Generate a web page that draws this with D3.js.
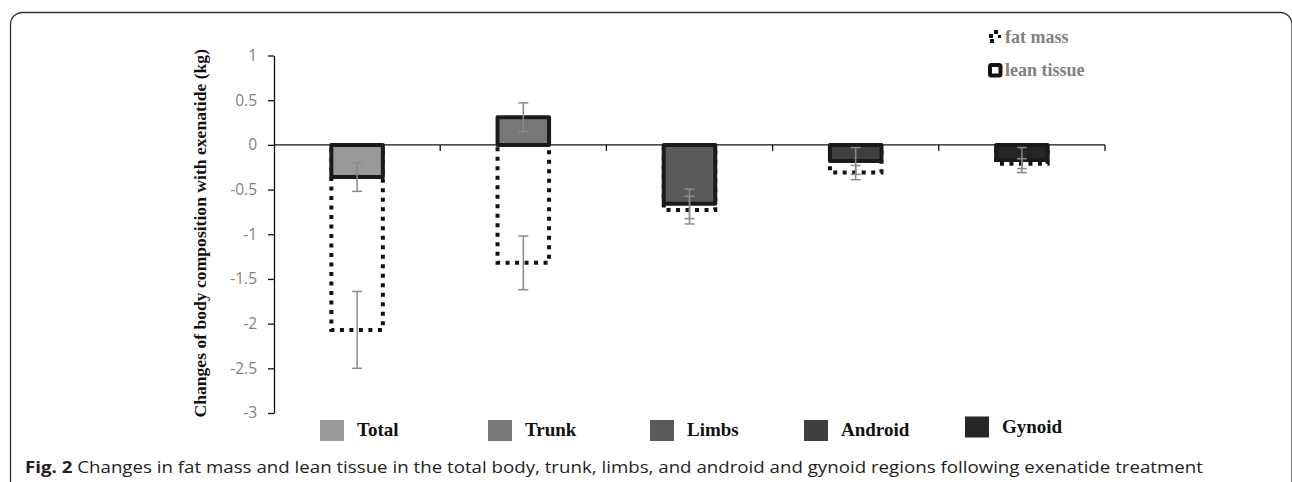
<!DOCTYPE html>
<html>
<head>
<meta charset="utf-8">
<script src="https://cdn.jsdelivr.net/npm/d3@7"></script>
<style>
  html, body { margin: 0; padding: 0; background: #fff; }
  svg { display: block; }
</style>
</head>
<body>
<svg id="chart" width="1292" height="482"></svg>
<script>
// ---- data ----
const categories = ["Total", "Trunk", "Limbs", "Android", "Gynoid"];
const fatMass      = [-2.07, -1.32, -0.73, -0.31, -0.21];
const fatMassErr   = [0.43, 0.30, 0.155, 0.08, 0.055];
const leanTissue   = [-0.36, 0.31, -0.66, -0.18, -0.17];
const leanTissueErr= [0.16, 0.16, 0.165, 0.15, 0.14];
const yTicks = [1, 0.5, 0, -0.5, -1, -1.5, -2, -2.5, -3];
const seriesNames = ["fat mass", "lean tissue"];
const yTitle = "Changes of body composition with exenatide (kg)";
const captionBold = "Fig. 2";
const captionText = " Changes in fat mass and lean tissue in the total body, trunk, limbs, and android and gynoid regions following exenatide treatment";

// ---- styles / layout ----
const catColors = ["#999999", "#777777", "#5a5a5a", "#3f3f3f", "#252525"];
const legendX = [320, 488, 650, 804, 965];
const legendDy = [0, 0, 0, 0, -3.5];

const svg = d3.select("#chart");

// frame
svg.append("path")
  .attr("d", "M10.5,500 V24 A12,12 0 0 1 22.5,12.5 H1280 A12,12 0 0 1 1292,24.5 V500")
  .attr("fill", "none").attr("stroke", "#333").attr("stroke-width", 1.3);

const x = d3.scaleBand().domain(categories).range([274, 1105]).padding(0);
const y = d3.scaleLinear().domain([-3, 1]).range([413, 55.5]);
const barW = x.bandwidth() * 0.31;
const bx = d => x(d) + x.bandwidth() / 2 - barW / 2;

// y axis
const yAxis = svg.append("g").attr("transform", "translate(274,0)")
  .call(d3.axisLeft(y).tickValues(yTicks).tickSize(6).tickSizeOuter(0).tickPadding(11)
        .tickFormat(d => String(d)));
yAxis.select(".domain").attr("stroke", "#111").attr("stroke-width", 1.3);
yAxis.selectAll(".tick line").attr("stroke", "#111").attr("stroke-width", 1.3);
yAxis.selectAll(".tick text")
  .attr("fill", "#7f7f7f").style("font-family", "'Open Sans', sans-serif").style("font-size", "15.5px");

// y title
svg.append("text")
  .attr("transform", `translate(206,${(y(1) + y(-3)) / 2 - 1}) rotate(-90)`)
  .attr("text-anchor", "middle")
  .style("font-family", "'Liberation Serif', 'Times New Roman', serif")
  .style("font-weight", "bold").style("font-size", "17.6px").attr("fill", "#111")
  .text(yTitle);

// fat mass bars (dotted, no fill)
svg.append("g").selectAll("rect").data(categories).join("rect")
  .attr("x", d => bx(d))
  .attr("width", barW)
  .attr("y", (d, i) => y(Math.max(0, fatMass[i])))
  .attr("height", (d, i) => Math.abs(y(fatMass[i]) - y(0)))
  .attr("fill", "none").attr("stroke", "#111").attr("stroke-width", 4)
  .attr("stroke-dasharray", "4,5.5");

// x axis line with boundary ticks
const xg = svg.append("g");
xg.append("line").attr("x1", 274).attr("x2", 1105).attr("y1", y(0)).attr("y2", y(0))
  .attr("stroke", "#111").attr("stroke-width", 1.3);
const bounds = categories.map(c => x(c)).concat([x.range()[1]]).slice(1);
xg.selectAll("line.t").data(bounds).join("line").attr("class", "t")
  .attr("x1", d => d).attr("x2", d => d).attr("y1", y(0)).attr("y2", y(0) + 6)
  .attr("stroke", "#111").attr("stroke-width", 1.3);

// lean tissue bars
svg.append("g").selectAll("rect").data(categories).join("rect")
  .attr("x", d => bx(d))
  .attr("width", barW)
  .attr("y", (d, i) => y(Math.max(0, leanTissue[i])))
  .attr("height", (d, i) => Math.abs(y(leanTissue[i]) - y(0)))
  .attr("fill", (d, i) => catColors[i]).attr("stroke", "#1a1a1a").attr("stroke-width", 4)
  .attr("stroke-linejoin", "round");

// error bars
function errBars(vals, errs) {
  const g = svg.append("g").attr("stroke", "#8a8a8a").attr("stroke-width", 1.5);
  categories.forEach((c, i) => {
    const cx = x(c) + x.bandwidth() / 2;
    const y1 = y(vals[i] + errs[i]), y2 = y(vals[i] - errs[i]);
    g.append("line").attr("x1", cx).attr("x2", cx).attr("y1", y1).attr("y2", y2);
    g.append("line").attr("x1", cx - 5).attr("x2", cx + 5).attr("y1", y1).attr("y2", y1);
    g.append("line").attr("x1", cx - 5).attr("x2", cx + 5).attr("y1", y2).attr("y2", y2);
  });
}
errBars(fatMass, fatMassErr);
errBars(leanTissue, leanTissueErr);

// series legend (top right)
const sl = svg.append("g");
const fmIcon = sl.append("g").attr("fill", "#111");
[[989, 34, 4, 4], [994, 30, 4, 4], [998, 35, 3, 3], [990, 39, 4, 4]].forEach(r =>
  fmIcon.append("rect").attr("x", r[0]).attr("y", r[1]).attr("width", r[2]).attr("height", r[3]));
sl.append("rect").attr("x", 990).attr("y", 65).attr("width", 10.5).attr("height", 10.5).attr("rx", 1.5)
  .attr("fill", "#fff").attr("stroke", "#111").attr("stroke-width", 4);
sl.selectAll("text").data(seriesNames).join("text")
  .attr("x", 1005).attr("y", (d, i) => 42.5 + i * 33.5)
  .style("font-family", "'Liberation Serif', 'Times New Roman', serif")
  .style("font-weight", "bold").style("font-size", "18px").attr("fill", "#808080")
  .text(d => d);

// category legend (bottom)
const cl = svg.append("g").selectAll("g").data(categories).join("g")
  .attr("transform", (d, i) => `translate(${legendX[i]},${420 + legendDy[i]})`);
cl.append("rect").attr("width", 24).attr("height", 21).attr("fill", (d, i) => catColors[i]);
cl.append("text").attr("x", 37).attr("y", 16)
  .style("font-family", "'Liberation Serif', 'Times New Roman', serif")
  .style("font-weight", "bold").style("font-size", "19px").attr("fill", "#111")
  .text(d => d);

// caption (stretched horizontally to the reference's span)
const capG = svg.append("g");
const cap = capG.append("text").attr("x", 0).attr("y", 0)
  .style("font-family", "'Open Sans', sans-serif").style("font-size", "16.5px").attr("fill", "#231f20");
cap.append("tspan").style("font-weight", "bold").text(captionBold);
cap.append("tspan").text(captionText);
const capW = cap.node().getBBox().width;
capG.attr("transform", `translate(25,473) scale(${1179 / capW},1)`);
</script>
</body>
</html>
